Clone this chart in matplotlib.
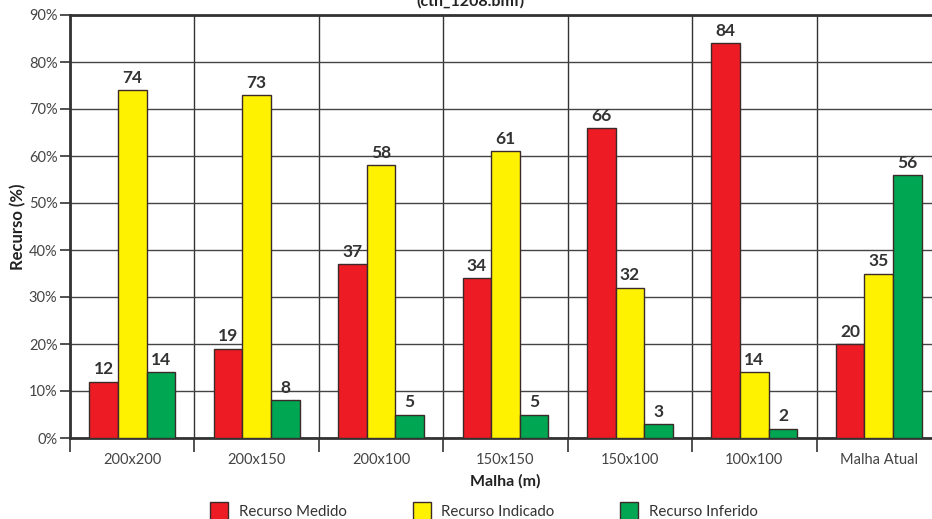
import matplotlib
matplotlib.use("Agg")
import matplotlib.pyplot as plt
import numpy as np
from matplotlib.patches import Patch
from matplotlib.ticker import FixedLocator

plt.rcParams['font.family'] = ['Lato', 'DejaVu Sans']

categories = ["200x200", "200x150", "200x100", "150x150", "150x100", "100x100", "Malha Atual"]
medido = [12, 19, 37, 34, 66, 84, 20]
indicado = [74, 73, 58, 61, 32, 14, 35]
inferido = [14, 8, 5, 5, 3, 2, 56]
series_names = ["Recurso Medido", "Recurso Indicado", "Recurso Inferido"]
colors = ["#ED1C24", "#FFF200", "#00A651"]

fig = plt.figure(figsize=(9.32, 5.19), dpi=100)
ax = fig.add_axes([70/932, 81/519, 871/932, 423/519])

x = np.arange(len(categories))
w = 0.23
for off, vals, c in zip([-w, 0, w], [medido, indicado, inferido], colors):
    bars = ax.bar(x + off, vals, width=w, color=c, edgecolor="#3a2a2a", linewidth=1.0, zorder=3)
    for b, v in zip(bars, vals):
        ax.text(b.get_x() + b.get_width()/2, v + 0.9, str(v), ha="center", va="bottom",
                fontsize=12.5, fontweight="bold", color="#333333", zorder=4)

ax.set_xlim(-0.5, len(categories) - 0.5)
ax.set_ylim(0, 90)
ax.set_yticks(np.arange(0, 91, 10))
ax.set_yticklabels([f"{t}%" for t in range(0, 91, 10)])
ax.set_xticks(x)
ax.set_xticklabels(categories)
ax.xaxis.set_minor_locator(FixedLocator(np.arange(-0.5, len(categories), 1.0)))
ax.tick_params(axis="x", which="major", length=0, pad=11, labelsize=10.5, labelcolor="#444444")
ax.tick_params(axis="x", which="minor", length=10, width=1.2, color="#333333")
ax.tick_params(axis="y", which="major", length=7, width=1.2, color="#333333", labelsize=10.5, labelcolor="#444444", pad=2)

ax.grid(axis="y", which="major", color="#444444", linewidth=1.0, zorder=0)
ax.grid(axis="x", which="minor", color="#333333", linewidth=1.0, zorder=0)
ax.set_axisbelow(True)

for s in ["left", "bottom", "top"]:
    ax.spines[s].set_linewidth(2.0)
    ax.spines[s].set_color("#333333")
ax.spines["right"].set_visible(False)

ax.set_ylabel("Recurso (%)", fontsize=12, fontweight="bold", color="#222222", labelpad=2)
ax.set_xlabel("Malha (m)", fontsize=11.5, fontweight="bold", color="#222222", labelpad=5)

fig.text(0.505, 1 - 6/519, "(cth_1208.bmf)", ha="center", va="baseline", fontsize=11.5,
         fontweight="bold", color="#222222")

handles = [Patch(facecolor=c, edgecolor="#3a2a2a", linewidth=1.0) for c in colors]
fig.legend(handles, series_names, loc="center", bbox_to_anchor=(484/932, 1 - 511/519), ncol=3,
           frameon=False, fontsize=10.8, handlelength=1.2, handleheight=1.5, columnspacing=4.4,
           handletextpad=0.7, labelcolor="#333333")

fig.savefig("out.png", dpi=100)
